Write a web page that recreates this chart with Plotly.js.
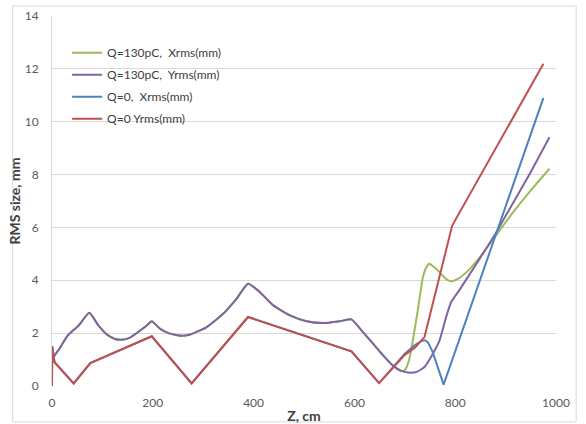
<!DOCTYPE html>
<html>
<head>
<meta charset="utf-8">
<script src="https://cdn.plot.ly/plotly-3.0.1.min.js"></script>
<style>html,body{margin:0;padding:0;background:#fff;}#chart{width:586px;height:424px;}</style>
</head>
<body>
<div id="chart"></div>
<script>
// Q=130pC, Yrms (mm)
const zPurple = [3, 16, 30, 40, 53, 74, 92, 109, 125, 138, 155, 175, 188, 198, 214, 234, 258, 274, 307, 340, 366, 389, 412, 439, 472, 505, 538, 571, 594, 617, 637, 657, 676, 693, 706, 723, 739, 752, 769, 782, 792, 808, 825, 848, 881, 914, 950, 987];
const yPurple = [1.1, 1.45, 1.88, 2.07, 2.29, 2.77, 2.29, 1.95, 1.78, 1.75, 1.83, 2.1, 2.29, 2.45, 2.17, 1.98, 1.9, 1.95, 2.23, 2.74, 3.3, 3.87, 3.56, 3.05, 2.67, 2.45, 2.38, 2.45, 2.52, 2.04, 1.6, 1.16, 0.78, 0.57, 0.51, 0.53, 0.72, 1.1, 1.73, 2.61, 3.18, 3.62, 4.12, 4.8, 5.8, 6.9, 8.1, 9.41];
// Q=130pC, Xrms (mm): hidden under Yrms up to ~700 cm
const zGreen = [3, 16, 30, 40, 53, 74, 92, 109, 125, 138, 155, 175, 188, 198, 214, 234, 258, 274, 307, 340, 366, 389, 412, 439, 472, 505, 538, 571, 594, 617, 637, 657, 676, 693, 700, 708, 716, 726, 736, 743, 749, 758, 769, 780, 792, 805, 822, 848, 881, 914, 950, 987];
const yGreen = [1.1, 1.45, 1.88, 2.07, 2.29, 2.77, 2.29, 1.95, 1.78, 1.75, 1.83, 2.1, 2.29, 2.45, 2.17, 1.98, 1.9, 1.95, 2.23, 2.74, 3.3, 3.87, 3.56, 3.05, 2.67, 2.45, 2.38, 2.45, 2.52, 2.04, 1.6, 1.16, 0.78, 0.57, 0.6, 0.95, 1.73, 2.9, 4.12, 4.5, 4.63, 4.5, 4.31, 4.08, 3.96, 4.05, 4.3, 4.85, 5.7, 6.55, 7.4, 8.22];
// Q=0, Xrms (mm): hidden under Yrms up to ~650 cm
const zBlue = [0, 0.5, 5, 43, 76, 198, 277, 389, 594, 649, 700, 720, 733, 740, 746, 755, 777, 975];
const yBlue = [0, 1.5, 0.9, 0.1, 0.87, 1.88, 0.1, 2.61, 1.31, 0.11, 1.22, 1.55, 1.7, 1.73, 1.65, 1.3, 0.05, 10.9];
// Q=0, Yrms (mm)
const zRed = [0, 0.5, 5, 43, 76, 198, 277, 389, 594, 649, 700, 720, 739, 794, 975];
const yRed = [0, 1.5, 0.9, 0.1, 0.87, 1.88, 0.1, 2.61, 1.31, 0.11, 1.18, 1.45, 1.85, 6.07, 12.19];

const names = ['Q=130pC,  Xrms(mm)', 'Q=130pC,  Yrms(mm)', 'Q=0,  Xrms(mm)', 'Q=0 Yrms(mm)'];
const colors = ['#9bbb59', '#8064a2', '#4f81bd', '#c0504d'];
const shapes = ['spline', 'spline', 'linear', 'linear'];
const xTicks = [0, 200, 400, 600, 800, 1000];
const yTicks = [0, 2, 4, 6, 8, 10, 12, 14];

const series = [[zGreen, yGreen], [zPurple, yPurple], [zBlue, yBlue], [zRed, yRed]];
const data = series.map((s, i) => ({
  x: s[0], y: s[1], type: 'scatter', mode: 'lines', name: names[i],
  legendgroup: 'g' + i,
  line: {color: colors[i], width: 2, shape: shapes[i], smoothing: 0.5}
}));

const font = 'Lato, "Liberation Sans", sans-serif';
const layout = {
  width: 586, height: 424,
  margin: {l: 52, r: 30, t: 16, b: 38},
  paper_bgcolor: '#ffffff', plot_bgcolor: '#ffffff',
  font: {family: font, size: 12, color: '#595959'},
  showlegend: true,
  legend: {x: 0.03, y: 0.94, xanchor: 'left', yanchor: 'top', bgcolor: 'rgba(0,0,0,0)',
           font: {family: font, size: 12, color: '#404040'}, tracegroupgap: 3, traceorder: 'grouped'},
  xaxis: {range: [0, 1000], tickvals: xTicks, ticktext: xTicks.map(String), showgrid: false,
          zeroline: false, showline: false, ticks: '', ticklabelstandoff: 8,
          title: {text: '<b>Z, cm</b>', font: {family: font, size: 14, color: '#404040'}, standoff: 7}},
  yaxis: {range: [0, 14], tickvals: yTicks, ticktext: yTicks.map(String), showgrid: true,
          gridcolor: '#d9d9d9', gridwidth: 1, zeroline: false, showline: true, linecolor: '#d9d9d9',
          ticks: '', ticklabelstandoff: 10,
          title: {text: '<b>RMS size, mm</b>', font: {family: font, size: 14, color: '#404040'}, standoff: 0}},
  shapes: [{type: 'rect', xref: 'paper', yref: 'paper', x0: -0.078, x1: 1.04, y0: -0.097, y1: 1.027,
            line: {color: '#d9d9d9', width: 1}, fillcolor: 'rgba(0,0,0,0)', layer: 'below'}]
};

Plotly.newPlot('chart', data, layout, {staticPlot: true, displayModeBar: false});
</script>
</body>
</html>
